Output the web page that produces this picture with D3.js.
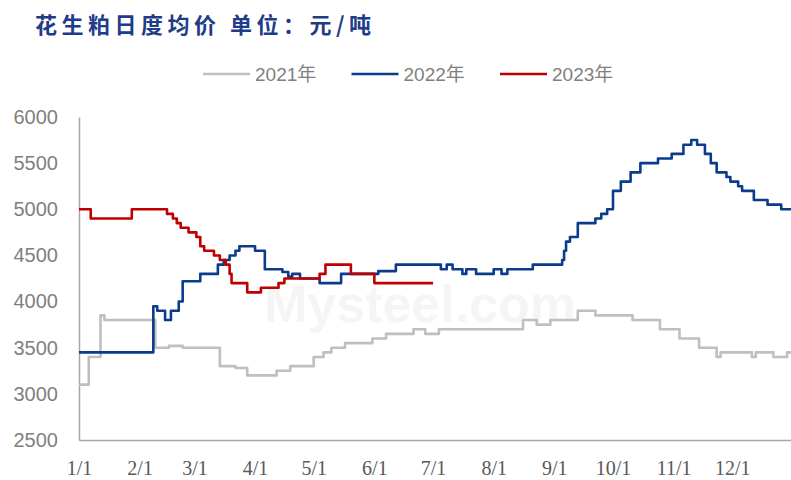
<!DOCTYPE html>
<html>
<head>
<meta charset="utf-8">
<script src="https://cdn.jsdelivr.net/npm/d3@7"></script>
<style>
  body { margin: 0; background: #fff; }
  svg { display: block; }
</style>
</head>
<body>
<div id="graph"></div>
<script>
// change points of daily prices, [month/day, yuan per ton]
var s2021 = [
  ["1/1",3100],["1/6",3400],["1/12",3850],["1/14",3800],["2/9",3500],["2/16",3520],["2/23",3500],
  ["3/14",3300],["3/22",3280],["3/28",3200],["4/12",3250],["4/19",3300],["5/1",3400],["5/6",3450],
  ["5/10",3500],["5/17",3550],["5/31",3600],["6/7",3650],["6/21",3700],["6/27",3650],["7/4",3700],
  ["8/16",3800],["8/23",3750],["8/30",3800],["9/13",3900],["9/22",3850],["10/11",3800],["10/25",3700],
  ["11/4",3600],["11/14",3500],["11/23",3400],["11/25",3450],["12/11",3400],["12/13",3450],
  ["12/22",3400],["12/29",3450],["12/31",3450]
];
var s2022 = [
  ["1/1",3450],["2/8",3950],["2/10",3900],["2/14",3800],["2/17",3900],["2/21",4000],["2/23",4220],
  ["3/4",4300],["3/13",4400],["3/16",4450],["3/19",4500],["3/22",4550],["3/24",4600],["4/1",4550],
  ["4/6",4350],["4/15",4320],["4/18",4270],["4/20",4300],["4/24",4250],["5/4",4200],["5/15",4300],
  ["6/3",4330],["6/12",4400],["7/5",4350],["7/8",4400],["7/11",4350],["7/16",4300],["7/18",4350],
  ["7/23",4300],["8/1",4350],["8/5",4300],["8/8",4350],["8/21",4400],["9/5",4450],["9/6",4550],
  ["9/7",4650],["9/9",4700],["9/13",4850],["9/22",4900],["9/25",4950],["9/28",5000],["10/1",5200],
  ["10/5",5300],["10/10",5400],["10/15",5500],["10/24",5550],["10/31",5600],["11/6",5700],
  ["11/10",5750],["11/13",5700],["11/17",5600],["11/20",5500],["11/23",5400],["11/28",5350],
  ["11/30",5300],["12/4",5250],["12/6",5200],["12/12",5100],["12/19",5050],["12/26",5000],["12/31",5000]
];
var s2023 = [
  ["1/1",5000],["1/7",4900],["1/28",5000],["2/15",4950],["2/18",4900],["2/20",4850],["2/22",4800],
  ["2/26",4750],["3/2",4700],["3/4",4600],["3/6",4550],["3/11",4500],["3/14",4450],["3/17",4400],
  ["3/19",4300],["3/20",4200],["3/28",4100],["4/4",4150],["4/13",4200],["4/16",4250],["5/4",4300],
  ["5/7",4400],["5/20",4300],["6/1",4200],["7/1",4200]
];

var seriesNames = ["2021年", "2022年", "2023年"];
var seriesColors = ["#BFBFBF", "#0B3C8C", "#C00000"];
var yTicks = [2500, 3000, 3500, 4000, 4500, 5000, 5500, 6000];
var monthTicks = ["1/1","2/1","3/1","4/1","5/1","6/1","7/1","8/1","9/1","10/1","11/1","12/1"];

var width = 791, height = 480;
var parse = d3.timeParse("%m/%d/%Y");
function toDate(md) { return parse(md + "/2022"); }

var svg = d3.select("#graph").append("svg")
  .attr("width", width)
  .attr("height", height);

var x = d3.scaleTime()
  .domain([toDate("1/1"), toDate("12/31")])
  .range([79, 791]);

var y = d3.scaleLinear()
  .domain([2500, 6000])
  .range([440, 117]);

// title
svg.append("text")
  .attr("x", 35)
  .attr("y", 33)
  .attr("font-family", "'Noto Sans CJK SC', sans-serif")
  .attr("font-weight", "bold")
  .attr("font-size", 22)
  .attr("letter-spacing", 4.5)
  .attr("fill", "#1F3C88")
  .text("花生粕日度均价 单位：元/吨");

// faint watermark
svg.append("text")
  .attr("x", 420)
  .attr("y", 322)
  .attr("text-anchor", "middle")
  .attr("font-family", "'Liberation Sans', sans-serif")
  .attr("font-weight", "bold")
  .attr("font-size", 52)
  .attr("fill", "#f5f5f5")
  .text("Mysteel.com");

// axes
var yAxis = svg.append("g")
  .attr("transform", "translate(79,0)")
  .call(d3.axisLeft(y).tickValues(yTicks).tickSize(0).tickPadding(21).tickFormat(d3.format("d")));
yAxis.select(".domain").attr("stroke", "#A6A6A6").attr("stroke-width", 1.5);
yAxis.selectAll("text")
  .attr("font-family", "'Liberation Sans', sans-serif")
  .attr("font-size", 20)
  .attr("fill", "#7F7F7F");

var xAxis = svg.append("g")
  .attr("transform", "translate(0,440)")
  .call(d3.axisBottom(x).tickValues(monthTicks.map(toDate)).tickSize(0).tickPadding(21)
    .tickFormat(function(d, i) { return monthTicks[i]; }));
xAxis.select(".domain").attr("stroke", "#A6A6A6").attr("stroke-width", 1.5);
xAxis.selectAll("text")
  .attr("font-family", "'Liberation Serif', serif")
  .attr("font-size", 20)
  .attr("fill", "#595959");

// lines
var line = d3.line()
  .x(function(d) { return x(toDate(d[0])); })
  .y(function(d) { return y(d[1]); })
  .curve(d3.curveStepAfter);

[s2021, s2022, s2023].forEach(function(s, i) {
  svg.append("path")
    .datum(s)
    .attr("fill", "none")
    .attr("stroke", seriesColors[i])
    .attr("stroke-width", 2.6)
    .attr("stroke-linejoin", "round")
    .attr("d", line);
});

// legend
var legend = svg.append("g");
seriesNames.forEach(function(name, i) {
  var lx = 203 + i * 148.5;
  legend.append("line")
    .attr("x1", lx).attr("x2", lx + 47)
    .attr("y1", 74).attr("y2", 74)
    .attr("stroke", seriesColors[i])
    .attr("stroke-width", 2.6);
  legend.append("text")
    .attr("x", lx + 52)
    .attr("y", 81)
    .attr("font-family", "'Liberation Sans', 'Noto Sans CJK SC', sans-serif")
    .attr("font-size", 19)
    .attr("fill", "#7F7F7F")
    .text(name);
});
</script>
</body>
</html>
